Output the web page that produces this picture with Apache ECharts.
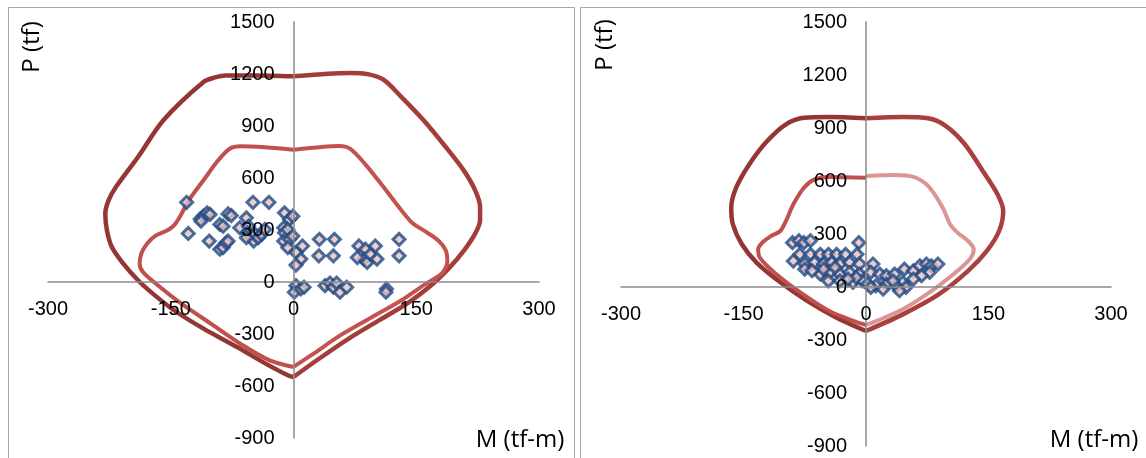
<!DOCTYPE html>
<html><head><meta charset="utf-8">
<script src="https://cdn.jsdelivr.net/npm/echarts/dist/echarts.min.js"></script>
<style>html,body{margin:0;padding:0;background:#fff}#c{width:1146px;height:458px}</style>
</head><body><div id="c"></div><script>
// Tick labels
const mTicks = [-300, -150, 0, 150, 300];
const pTicks = [-900, -600, -300, 0, 300, 600, 900, 1200, 1500];
const mTitle = 'M (tf-m)';
const pTitle = 'P (tf)';

// Left panel: interaction curves (M, P), each half from top to bottom
const leftOuterNeg = [[0,1187],[-47,1192],[-83,1192],[-96,1180],[-110,1154],[-159,933],[-190,721],[-217,548],[-226,471],[-230,394],[-228,298],[-222,202],[-208,106],[-190,10],[-172,-67],[-146,-163],[-110,-269],[-69,-375],[-34,-471],[-7,-538],[0,-548]];
const leftOuterPos = [[0,1187],[42,1202],[69,1206],[92,1198],[110,1167],[132,1067],[159,933],[186,779],[208,644],[222,529],[228,433],[228,356],[222,279],[208,180],[190,80],[168,-20],[140,-120],[105,-220],[68,-325],[32,-440],[0,-548]];
const leftInnerNeg = [[0,763],[-38,779],[-65,783],[-78,769],[-92,702],[-110,587],[-128,471],[-139,375],[-146,327],[-154,298],[-168,269],[-179,221],[-186,163],[-188,106],[-184,58],[-168,-10],[-137,-125],[-101,-240],[-65,-356],[-29,-452],[0,-490]];
const leftInnerPos = [[0,763],[34,779],[56,785],[69,769],[87,683],[110,548],[132,413],[146,337],[159,298],[177,240],[186,183],[188,115],[181,48],[161,-12],[132,-105],[95,-205],[57,-308],[24,-415],[0,-490]];
const leftLoads = [[-130.6,460],[-128.6,280],[-114,364],[-110,380],[-105.5,399],[-102,390],[-113,351],[-103,236],[-90,332],[-86,322],[-80,393],[-76,383],[-90,189],[-86,199],[-82,227],[-80,236],[-65.7,313],[-57.6,370],[-55,322],[-49.5,460],[-30,460],[-56,284],[-52,265],[-48.7,236],[-47,275],[-43,256],[-39,275],[-35,303],[-57.6,256],[-11,399],[-4.9,361],[-0.8,380],[-12,313],[-11,284],[-7,303],[-12,236],[-5,246],[-0.8,265],[-7,199],[3.2,170],[11,208],[9,132],[3,98],[31.6,246],[50,246],[31,151],[48.7,151],[80,208],[88,189],[86,132],[90,113],[94,160],[100,208],[102,132],[78,141],[129,246],[129,151],[3,-21],[1,-59],[9,-40],[13,-30],[38.5,-21],[44.6,-6],[48.7,-30],[52.7,-6],[56.8,-59],[65,-30],[113.6,-40],[113,-59]];

// Right panel
const rightOuterNeg = [[0,955],[-45,962],[-76,958],[-98,921],[-121,826],[-143,694],[-159,562],[-165,449],[-163,355],[-152,242],[-134,138],[-107,34],[-72,-79],[-36,-174],[0,-249]];
const rightOuterPos = [[0,955],[45,962],[76,955],[98,911],[121,808],[143,657],[161,525],[168,430],[163,317],[148,204],[125,91],[89,-42],[45,-155],[0,-249]];
const rightInnerNeg = [[0,619],[-45,623],[-63,609],[-76,562],[-89,468],[-98,374],[-105,317],[-116,289],[-127,251],[-132,213],[-130,166],[-112,81],[-80,-32],[-45,-136],[-13,-196],[0,-215]];
const rightInnerPos = [[0,628],[36,634],[58,623],[76,572],[94,449],[103,355],[112,308],[125,260],[132,213],[127,157],[107,72],[80,-23],[45,-126],[13,-192],[0,-215]];
const rightLoads = [[-90,251],[-82,262],[-76,251],[-68,262],[-8.8,251],[-89,147],[-81,185],[-68,185],[-56,185],[-46,185],[-36,185],[-25,185],[-11,185],[-75,130],[-63,139],[-52,130],[-42,139],[-32,130],[-20,139],[-8,130],[-75,101],[-56,73],[-44,83],[-32,73],[-20,83],[-8,73],[-46,35],[-32,35],[-16,26],[-4,35],[8.5,130],[6,83],[17,73],[25,64],[35,73],[47,101],[58,92],[66,120],[74,130],[80,120],[88,130],[78,83],[68,64],[58,45],[45,26],[37,7],[25,17],[12,7],[2,17],[33,35],[49,-2],[41,-21],[21,-12],[6,-2],[-12,54],[-22,45],[-52,101],[-66,92],[-38,111]];

const chart = echarts.init(document.getElementById('c'), null, {renderer: 'canvas'});
const grids = [
  {left: 48, top: 22, width: 491, height: 416},
  {left: 621, top: 22, width: 490, height: 424}
];
const mMin = mTicks[0], mMax = mTicks[mTicks.length-1];
const pMin = pTicks[0], pMax = pTicks[pTicks.length-1];
const axisGray = '#8a8a8a';
const lblFont = {fontSize: 20, color: '#000', fontFamily: 'Liberation Sans, Arial, sans-serif', formatter: v => String(v)};
function xAx(g) {
  // place the axis on P = 0
  const off = -grids[g].height * (0 - pMin) / (pMax - pMin);
  return {type: 'value', gridIndex: g, min: mMin, max: mMax, interval: mTicks[1]-mTicks[0], position: 'bottom', offset: off,
    axisLine: {onZero: false, lineStyle: {color: axisGray, width: 1.5}}, axisTick: {show: false}, splitLine: {show: false},
    axisLabel: Object.assign({margin: 17}, lblFont), z: 5};
}
function yAx(g) {
  // place the axis on M = 0
  const off = -grids[g].width * (0 - mMin) / (mMax - mMin);
  return {type: 'value', gridIndex: g, min: pMin, max: pMax, interval: pTicks[1]-pTicks[0], position: 'left', offset: off,
    axisLine: {onZero: false, lineStyle: {color: axisGray, width: 1.5}}, axisTick: {show: false}, splitLine: {show: false},
    axisLabel: Object.assign({margin: 19}, lblFont), z: 5};
}
function curve(data, g, color, w) {
  return {type: 'line', xAxisIndex: g, yAxisIndex: g, data: data, showSymbol: false, symbol: 'none', smooth: 0.3,
    lineStyle: {color: color, width: w}, z: 3};
}
function loads(data, g) {
  return {type: 'scatter', xAxisIndex: g, yAxisIndex: g, data: data, symbol: 'diamond', symbolSize: 12,
    itemStyle: {color: '#e8c0be', borderColor: '#1f4a86', borderWidth: 3}, z: 4};
}
const borderStyle = {stroke: '#a6a6a6', lineWidth: 1};
const titleStyle = {fontSize: 24, fill: '#000', fontFamily: 'Open Sans, Liberation Sans, sans-serif'};
chart.setOption({
  animation: false,
  grid: grids,
  xAxis: [xAx(0), xAx(1)],
  yAxis: [yAx(0), yAx(1)],
  series: [
    curve(leftOuterNeg, 0, '#943634', 4.5),
    curve(leftOuterPos, 0, '#a33d3a', 4.5),
    curve(leftInnerNeg, 0, '#c0504d', 4),
    curve(leftInnerPos, 0, '#c4534f', 4),
    loads(leftLoads, 0),
    curve(rightOuterNeg, 1, '#943634', 4.5),
    curve(rightOuterPos, 1, '#a8403d', 4.5),
    curve(rightInnerNeg, 1, '#c0504d', 4),
    curve(rightInnerPos, 1, '#d99694', 4),
    loads(rightLoads, 1)
  ],
  graphic: [
    {type: 'polyline', shape: {points: [[8.5,458],[8.5,7.5],[574.5,7.5],[574.5,458]]}, style: Object.assign({fill: null}, borderStyle), silent: true},
    {type: 'polyline', shape: {points: [[580.5,458],[580.5,7.5],[1146,7.5]]}, style: Object.assign({fill: null}, borderStyle), silent: true},
    {type: 'text', x: 32, y: 47, rotation: Math.PI/2, style: Object.assign({text: pTitle, align: 'center', verticalAlign: 'middle'}, titleStyle)},
    {type: 'text', x: 605, y: 45, rotation: Math.PI/2, style: Object.assign({text: pTitle, align: 'center', verticalAlign: 'middle'}, titleStyle)},
    {type: 'text', x: 520, y: 440, style: Object.assign({text: mTitle, align: 'center', verticalAlign: 'middle'}, titleStyle)},
    {type: 'text', x: 1094, y: 440, style: Object.assign({text: mTitle, align: 'center', verticalAlign: 'middle'}, titleStyle)}
  ]
});
</script></body></html>
